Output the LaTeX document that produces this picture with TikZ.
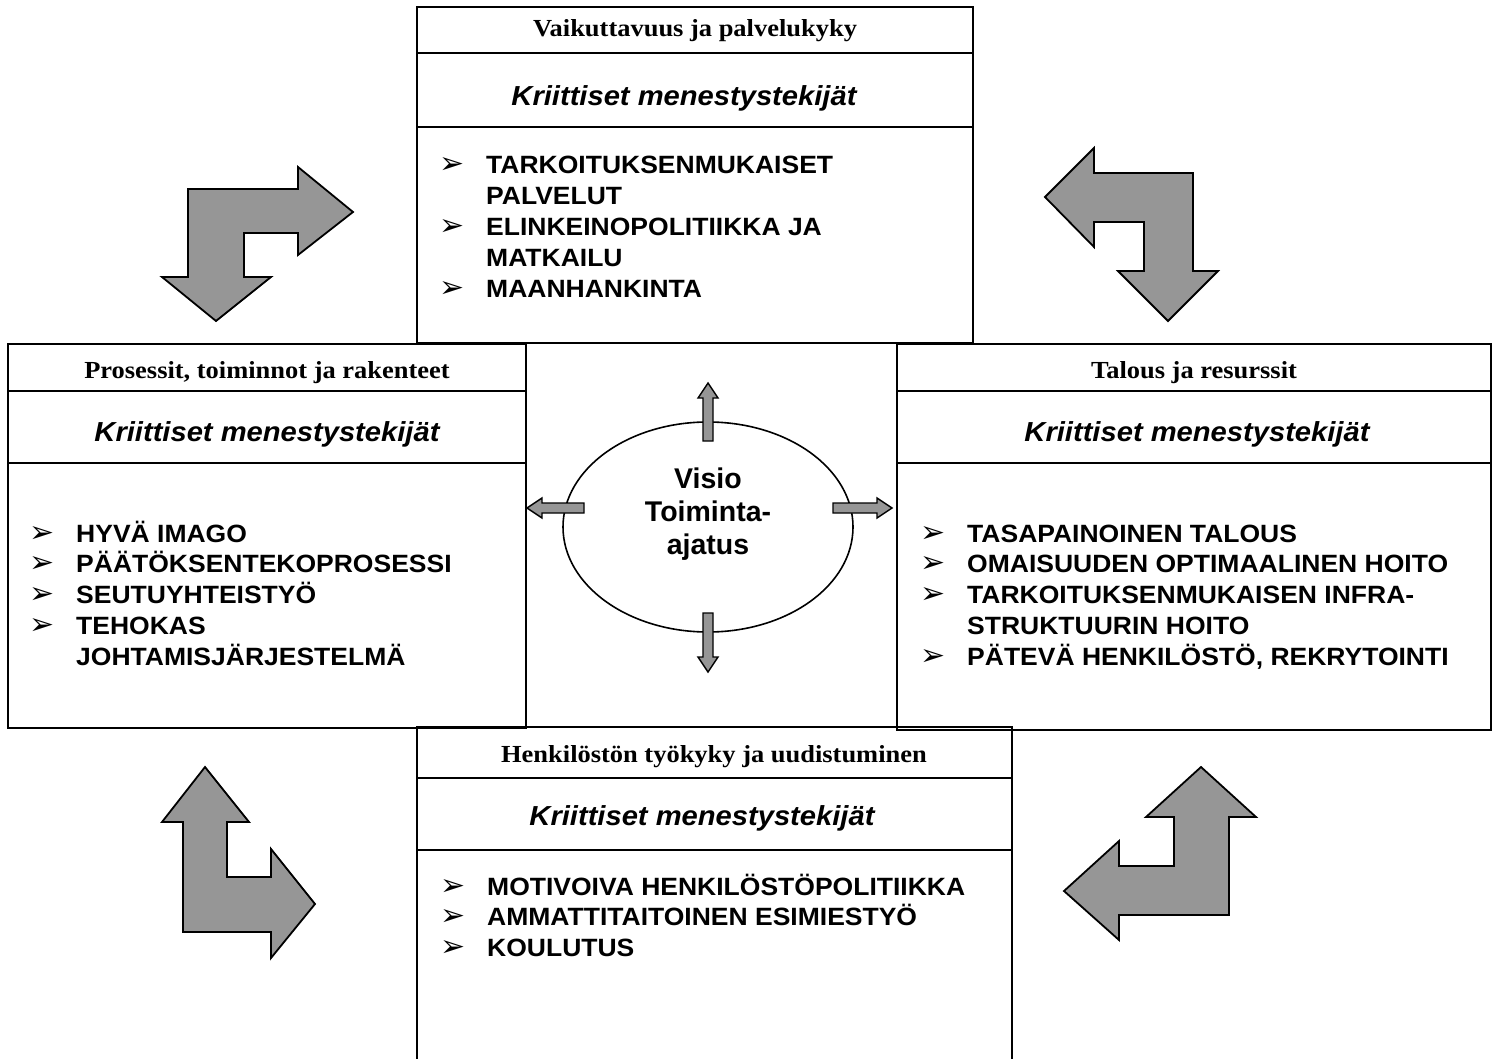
\documentclass[tikz,border=0pt]{standalone}
\usepackage{fontspec}
\newfontfamily\arialS{Liberation Sans}[FakeStretch=1.06]
\newfontfamily\arialV{Liberation Sans}
\newfontfamily\timesS{Liberation Serif}[FakeStretch=1.08]
\newfontfamily\dejavuS{DejaVu Sans}
\definecolor{arrowgray}{RGB}{150,150,150}
\newcommand{\bulmark}{\makebox[47pt][l]{\dejavuS\fontsize{30}{30}\selectfont ➢}}
\tikzset{
  box/.style={draw=black, line width=2pt},
  hdr/.style={font=\timesS\bfseries\fontsize{24.5}{28}\selectfont, anchor=base, inner sep=0pt},
  krit/.style={font=\arialS\bfseries\itshape\fontsize{27.5}{31}\selectfont, anchor=base, inner sep=0pt},
  items/.style={font=\arialS\bfseries\fontsize{25}{30.8}\selectfont, anchor=base west, inner sep=0pt},
  vision/.style={font=\arialV\bfseries\fontsize{28.5}{33}\selectfont, anchor=base, inner sep=0pt},
  bigarrow/.style={fill=arrowgray, draw=black, line width=1.8pt, line join=miter},
  smallarrow/.style={fill=arrowgray, draw=black, line width=1.4pt, line join=miter},
  ring/.style={draw=black, line width=1.6pt}
}
\begin{document}
\begin{tikzpicture}[x=1pt,y=-1pt]
\useasboundingbox (0,0) rectangle (1499,1059);
\fill[white] (0,0) rectangle (1499,1059);

% ---- boxes ----
% top
\draw[box] (417,7) rectangle (973,343);
\draw[box] (417,53) -- (973,53);
\draw[box] (417,127) -- (973,127);
% left
\draw[box] (8,344) rectangle (526,728);
\draw[box] (8,391) -- (526,391);
\draw[box] (8,463) -- (526,463);
% right
\draw[box] (897,344) rectangle (1491,730);
\draw[box] (897,391) -- (1491,391);
\draw[box] (897,463) -- (1491,463);
% bottom (open at the lower edge)
\draw[box] (417,1062) -- (417,727) -- (1012,727) -- (1012,1062);
\draw[box] (417,778) -- (1012,778);
\draw[box] (417,850) -- (1012,850);

% ---- headers ----
\node[hdr] (thead) at (695,37) {Vaikuttavuus ja palvelukyky};
\node[krit] (tkrit) at (684,106) {Kriittiset menestystekijät};
\node[hdr] (lhead) at (267,378) {Prosessit, toiminnot ja rakenteet};
\node[krit] (lkrit) at (267,441) {Kriittiset menestystekijät};
\node[hdr] (rhead) at (1194,378) {Talous ja resurssit};
\node[krit] (rkrit) at (1197,441) {Kriittiset menestystekijät};
\node[hdr] (bhead) at (714,762) {Henkilöstön työkyky ja uudistuminen};
\node[krit] (bkrit) at (702,825) {Kriittiset menestystekijät};

% ---- item lists ----
\node[items] (titems) at (439,174) {\begin{tabular}[t]{@{}l@{}l@{}}
\bulmark & TARKOITUKSENMUKAISET\\
 & PALVELUT\\
\bulmark & ELINKEINOPOLITIIKKA JA\\
 & MATKAILU\\
\bulmark & MAANHANKINTA
\end{tabular}};
\node[items] (litems) at (29,542) {\begin{tabular}[t]{@{}l@{}l@{}}
\bulmark & HYVÄ IMAGO\\
\bulmark & PÄÄTÖKSENTEKOPROSESSI\\
\bulmark & SEUTUYHTEISTYÖ\\
\bulmark & TEHOKAS\\
 & JOHTAMISJÄRJESTELMÄ
\end{tabular}};
\node[items] (ritems) at (920,542) {\begin{tabular}[t]{@{}l@{}l@{}}
\bulmark & TASAPAINOINEN TALOUS\\
\bulmark & OMAISUUDEN OPTIMAALINEN HOITO\\
\bulmark & TARKOITUKSENMUKAISEN INFRA-\\
 & STRUKTUURIN HOITO\\
\bulmark & PÄTEVÄ HENKILÖSTÖ, REKRYTOINTI
\end{tabular}};
\node[items] (bitems) at (440,895) {\begin{tabular}[t]{@{}l@{}l@{}}
\bulmark & MOTIVOIVA HENKILÖSTÖPOLITIIKKA\\
\bulmark & AMMATTITAITOINEN ESIMIESTYÖ\\
\bulmark & KOULUTUS
\end{tabular}};

% ---- centre ----
\draw[ring] (708,527) ellipse [x radius=145, y radius=105];
\node[vision] (vis) at (708,488) {\begin{tabular}[t]{@{}c@{}}Visio\\Toiminta-\\ajatus\end{tabular}};

% small arrows
\draw[smallarrow] (703,441) -- (703,398) -- (698,398) -- (708,383) -- (718,398) -- (713,398) -- (713,441) -- cycle;
\draw[smallarrow] (703,613) -- (703,657) -- (698,657) -- (708,672) -- (718,657) -- (713,657) -- (713,613) -- cycle;
\draw[smallarrow] (584,503) -- (542,503) -- (542,498) -- (527,508) -- (542,518) -- (542,513) -- (584,513) -- cycle;
\draw[smallarrow] (833,503) -- (877,503) -- (877,498) -- (892,508) -- (877,518) -- (877,513) -- (833,513) -- cycle;

% ---- bent arrows ----
% top left
\draw[bigarrow] (188,189) -- (298,189) -- (298,167) -- (353,212) -- (298,255) -- (298,233)
  -- (244,233) -- (244,277) -- (271,277) -- (216,321) -- (162,277) -- (188,277) -- cycle;
% top right
\draw[bigarrow] (1045,197) -- (1094,148) -- (1094,173) -- (1193,173) -- (1193,271) -- (1218,271)
  -- (1168,321) -- (1118,271) -- (1144,271) -- (1144,222) -- (1094,222) -- (1094,247) -- cycle;
% bottom left
\draw[bigarrow] (205,767) -- (249,822) -- (227,822) -- (227,877) -- (271,877) -- (271,849)
  -- (315,904) -- (271,958) -- (271,932) -- (183,932) -- (183,822) -- (162,822) -- cycle;
% bottom right
\draw[bigarrow] (1201,767) -- (1256,817) -- (1229,817) -- (1229,915) -- (1119,915) -- (1119,940)
  -- (1064,891) -- (1119,841) -- (1119,866) -- (1174,866) -- (1174,817) -- (1146,817) -- cycle;
\end{tikzpicture}
\end{document}
